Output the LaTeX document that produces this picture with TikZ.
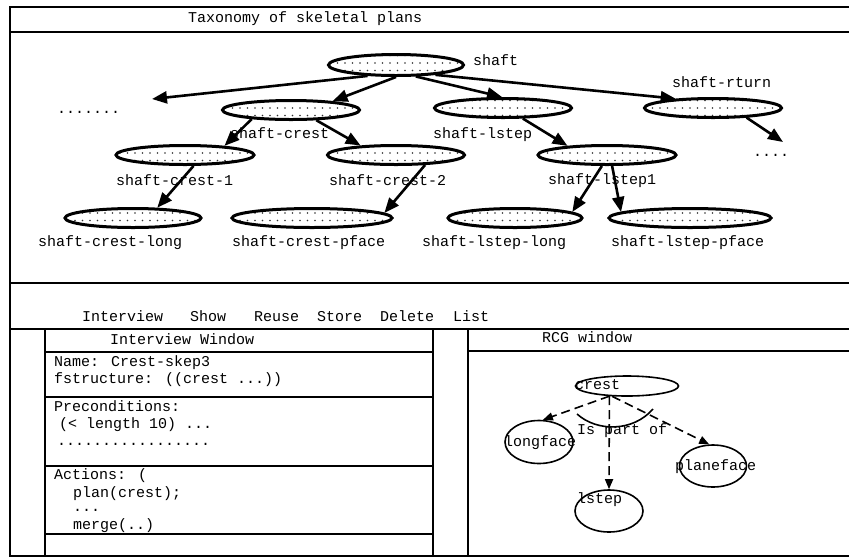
\documentclass[tikz,border=0pt]{standalone}
\usepackage{fontspec}
\newfontfamily\monofnt{Liberation Mono}
\usetikzlibrary{shapes.geometric,arrows.meta,patterns.meta}
\begin{document}
\begin{tikzpicture}[x=1pt,y=-1pt,
  txt/.style={font=\monofnt\fontsize{15}{18}\selectfont, inner sep=0pt, anchor=base west},
  frame/.style={line width=2.2pt},
  tax/.style={ellipse, draw, line width=3pt, inner sep=0pt, minimum height=19pt,
    preaction={fill=white}, pattern={Dots[distance=7.5pt,radius=0.8pt]}, pattern color=black!80},
  taxarrow/.style={line width=2.6pt, -{Triangle[length=15pt,width=12pt]}},
  rcg/.style={ellipse, draw, line width=1.6pt, inner sep=0pt},
  rcgarrow/.style={line width=1.6pt, dash pattern=on 9pt off 5pt, -{Triangle[length=10pt,width=8pt]}}]
\useasboundingbox (0,0) rectangle (849,558);
\fill[white] (0,0) rectangle (849,558);

% ---------- frames ----------
\draw[frame] (10,7) -- (849,7);
\draw[frame] (10,32) -- (849,32);
\draw[frame] (10,283) -- (849,283);
\draw[frame] (10,329) -- (849,329);
\draw[frame] (10,556) -- (849,556);
\draw[frame] (10,6) -- (10,557);
\draw[frame] (45,329) -- (45,556);
\draw[frame] (433,329) -- (433,556);
\draw[frame] (468,329) -- (468,556);
\draw[frame] (45,352) -- (433,352);
\draw[frame] (45,397) -- (433,397);
\draw[frame] (45,466) -- (433,466);
\draw[frame] (45,534) -- (433,534);
\draw[frame] (468,351) -- (849,351);

% ---------- titles and menu ----------
\node[txt] (ttl) at (188,22) {Taxonomy of skeletal plans};
\node[txt] (m1) at (82,321) {Interview};
\node[txt] (m2) at (190,321) {Show};
\node[txt] (m3) at (254,321) {Reuse};
\node[txt] (m4) at (317,321) {Store};
\node[txt] (m5) at (380,321) {Delete};
\node[txt] (m6) at (453,321) {List};
\node[txt] (iwt) at (110,344) {Interview Window};
\node[txt] (rcgt) at (542,342) {RCG window};

% ---------- interview window text ----------
\node[txt] (i1) at (54,366) {Name: Crest-skep3};
\node[txt] (i2) at (54,383) {fstructure: ((crest ...))};
\node[txt] (i3) at (54,411) {Preconditions:};
\node[txt] (i4) at (59,428) {(< length 10) ...};
\node[txt] (i5) at (57,445) {.................};
\node[txt] (i6) at (54,479) {Actions: (};
\node[txt] (i7) at (73,497) {plan(crest);};
\node[txt] (i8) at (73,511) {...};
\node[txt] (i9) at (73,529) {merge(..)};

% ---------- taxonomy labels ----------
\node[txt] (lshaft) at (473,65) {shaft};
\node[txt] (lrturn) at (672,87) {shaft-rturn};
\node[txt] (lcrest) at (230,138) {shaft-crest};
\node[txt] (llstep) at (433,138) {shaft-lstep};
\node[txt] (lcrest1) at (116,185) {shaft-crest-1};
\node[txt] (lcrest2) at (329,185) {shaft-crest-2};
\node[txt] (llstep1) at (548,184) {shaft-lstep1};
\node[txt] (lcl) at (38,246) {shaft-crest-long};
\node[txt] (lcp) at (232,246) {shaft-crest-pface};
\node[txt] (lll) at (422,246) {shaft-lstep-long};
\node[txt] (llp) at (611,246) {shaft-lstep-pface};
\node[txt] (dl) at (57,113) {.......};
\node[txt] (dr) at (753,156) {....};

% ---------- taxonomy ellipses ----------
\node[tax, minimum width=135pt, minimum height=21pt] (shaft) at (396,65) {};
\node[tax, minimum width=137pt] (crest) at (291,110) {};
\node[tax, minimum width=137pt] (lstep) at (503,108) {};
\node[tax, minimum width=137pt] (rturn) at (713,108) {};
\node[tax, minimum width=138pt] (crest1) at (185,155) {};
\node[tax, minimum width=137pt] (crest2) at (396,155) {};
\node[tax, minimum width=138pt] (lstep1) at (607,155) {};
\node[tax, minimum width=136pt] (crestlong) at (133,218) {};
\node[tax, minimum width=160pt] (crestpface) at (312,218) {};
\node[tax, minimum width=134pt] (lsteplong) at (515,218) {};
\node[tax, minimum width=162pt] (lsteppface) at (690,218) {};
\coordinate (leftend) at (152,99);
\coordinate (rightend) at (783,142);

% ---------- taxonomy arrows ----------
\draw[taxarrow] (shaft.201) -- (leftend);
\draw[taxarrow] (shaft.270) -- (crest.12);
\draw[taxarrow] (shaft.330) -- (lstep.95);
\draw[taxarrow] (shaft.346) -- (rturn.166);
\draw[taxarrow] (crest.193) -- (crest1.13);
\draw[taxarrow] (crest.338) -- (crest2.165);
\draw[taxarrow] (crest1.308) -- (crestlong.23);
\draw[taxarrow] (crest2.341) -- (crestpface.4);
\draw[taxarrow] (lstep.332) -- (lstep1.167);
\draw[taxarrow] (lstep1.245) -- (lsteplong.6);
\draw[taxarrow] (lstep1.295) -- (lsteppface.175);
\draw[taxarrow] (rturn.344) -- (rightend);

% ---------- RCG graph ----------
\node[rcg, minimum width=103pt, minimum height=20pt] (rcrest) at (627,386) {};
\node[rcg, minimum width=68pt, minimum height=43pt] (rlong) at (539,442) {};
\node[rcg, minimum width=68pt, minimum height=42pt] (rlstep) at (609,511) {};
\node[rcg, minimum width=67pt, minimum height=42pt] (rplane) at (713,466) {};
\node[txt] (tcrest) at (575,389) {crest};
\node[txt] (tlong) at (504,446) {longface};
\node[txt] (tlstep) at (577,503) {lstep};
\node[txt] (tplane) at (675,470) {planeface};
\node[txt] (tpart) at (577,434) {Is part of};
\draw[rcgarrow] (rcrest.210) -- (rlong.80);
\draw[rcgarrow] (rcrest.210) -- (rlstep.north);
\draw[rcgarrow] (rcrest.215) -- (rplane.100);
\draw[line width=1.6pt] (577,414) .. controls (597,432) and (633,432) .. (653,409);
\end{tikzpicture}
\end{document}
